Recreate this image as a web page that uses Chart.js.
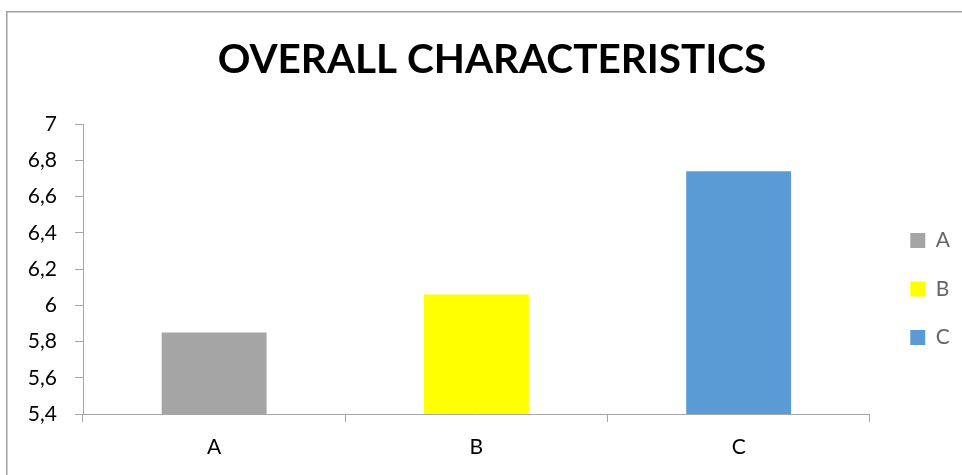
<!DOCTYPE html>
<html>
<head>
<meta charset="utf-8">
<style>
  html, body { margin: 0; padding: 0; background: #ffffff; }
  #wrap { width: 962px; height: 475px; }
</style>
<script src="https://cdn.jsdelivr.net/npm/chart.js@4/dist/chart.umd.min.js"></script>
</head>
<body>
<div id="wrap"><canvas id="chart" width="962" height="475"></canvas></div>
<script>
// Chart content
const chartTitle = 'OVERALL CHARACTERISTICS';
const categories = ['A', 'B', 'C'];
const values = [5.85, 6.06, 6.74];
const barColors = ['#A5A5A5', '#FFFF00', '#5B9BD5'];
const yMin = 5.4;
const yMax = 7;
const yStep = 0.2;

const FONT = 'Lato, "Open Sans", "DejaVu Sans", sans-serif';
const AXIS_GREY = '#A6A6A6';

// Thin grey frame along the top and left of the chart box
const framePlugin = {
  id: 'frame',
  beforeDraw(chart) {
    const ctx = chart.ctx;
    ctx.save();
    ctx.fillStyle = '#ffffff';
    ctx.fillRect(0, 0, chart.width, chart.height);
    ctx.strokeStyle = '#A0A0A0';
    ctx.lineWidth = 1.5;
    ctx.beginPath();
    ctx.moveTo(6.75, chart.height);
    ctx.lineTo(6.75, 11.75);
    ctx.lineTo(chart.width, 11.75);
    ctx.stroke();
    ctx.restore();
  }
};

// Decimal comma labels: 7, 6,8, 6,6 ...
function commaLabel(v) {
  return String(Number(v.toFixed(1))).replace('.', ',');
}

new Chart(document.getElementById('chart'), {
  type: 'bar',
  data: {
    labels: categories,
    datasets: [{
      label: chartTitle,
      data: values,
      backgroundColor: barColors,
      borderWidth: 0,
      categoryPercentage: 1.0,
      barPercentage: 0.4
    }]
  },
  options: {
    responsive: false,
    animation: false,
    devicePixelRatio: 1,
    layout: { padding: { left: 24, right: 2, top: 0, bottom: 0 } },
    plugins: {
      tooltip: { enabled: false },
      title: {
        display: true,
        text: chartTitle,
        color: '#000000',
        font: { family: FONT, size: 40.5, weight: 'bold', lineHeight: 1.2 },
        padding: { top: 36, bottom: 39.4 }
      },
      legend: {
        display: true,
        position: 'right',
        fullSize: false,
        title: {
          display: true,
          text: ' ',
          font: { family: FONT, size: 20, lineHeight: 1.2 },
          padding: 8
        },
        labels: {
          color: '#000000',
          font: { family: FONT, size: 21 },
          boxWidth: 15,
          boxHeight: 15,
          padding: 27.5,
          generateLabels() {
            return categories.map((c, i) => ({
              text: c,
              fillStyle: barColors[i],
              strokeStyle: barColors[i],
              lineWidth: 0,
              hidden: false,
              index: i
            }));
          }
        }
      }
    },
    scales: {
      x: {
        offset: true,
        afterFit(scale) { scale.height = 61; },
        grid: {
          display: true,
          offset: true,
          drawOnChartArea: false,
          drawTicks: true,
          tickLength: 8,
          color: AXIS_GREY
        },
        border: { display: true, color: AXIS_GREY, width: 1 },
        ticks: {
          color: '#000000',
          font: { family: FONT, size: 21 },
          padding: 13
        }
      },
      y: {
        min: yMin,
        max: yMax,
        afterFit(scale) { scale.width = 59; },
        grid: {
          display: true,
          drawOnChartArea: false,
          drawTicks: true,
          tickLength: 8,
          color: AXIS_GREY
        },
        border: { display: true, color: AXIS_GREY, width: 1 },
        ticks: {
          stepSize: yStep,
          color: '#000000',
          font: { family: FONT, size: 21 },
          padding: 18,
          callback: (v) => commaLabel(v)
        }
      },
      // empty gap between the plot and the legend
      gap: {
        type: 'linear',
        position: 'right',
        display: true,
        afterFit(scale) { scale.width = 13; },
        grid: { display: false },
        border: { display: false },
        ticks: { display: false }
      }
    }
  },
  plugins: [framePlugin]
});
</script>
</body>
</html>
